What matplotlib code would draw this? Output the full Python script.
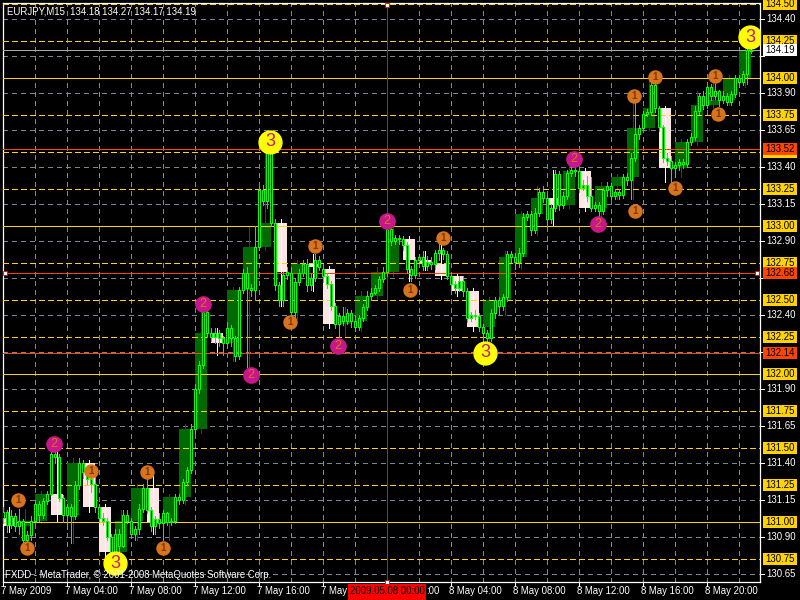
import matplotlib
matplotlib.use("Agg")
import matplotlib.pyplot as plt
from matplotlib.patches import Rectangle
from matplotlib.transforms import Bbox
import numpy as np

plt.rcParams['font.family'] = ['Liberation Sans', 'DejaVu Sans']

# ---------------- data (M15 bars, prices in pips above BASE) ----------------
BASE = 130.00
PIP = 0.01

open_pips = [
    103, 107, 98, 104, 97, 101, 88, 91, 101, 112,
    105, 114, 119, 146, 144, 116, 105, 110, 104, 125,
    140, 134, 129, 126, 110, 103, 101, 90, 80, 92,
    84, 105, 101, 92, 95, 109, 123, 108, 97, 102,
    99, 106, 100, 101, 117, 115, 127, 135, 163, 190,
    206, 242, 228, 225, 228, 224, 221, 231, 224, 212,
    257, 268, 258, 257, 286, 324, 317, 354, 302, 260,
    250, 267, 268, 242, 262, 268, 274, 260, 265, 277,
    271, 266, 261, 246, 234, 239, 236, 241, 236, 232,
    238, 245, 253, 255, 258, 264, 269, 298, 290, 292,
    291, 287, 271, 267, 277, 279, 273, 276, 274, 282,
    284, 281, 266, 261, 258, 263, 256, 238, 240, 239,
    232, 228, 224, 241, 250, 246, 252, 281, 279, 276,
    282, 306, 308, 297, 309, 323, 319, 305, 312, 335,
    314, 320, 336, 338, 337, 326, 328, 320, 312, 314,
    310, 324, 327, 320, 323, 321, 333, 331, 346, 362,
    366, 376, 377, 395, 380, 367, 346, 344, 339, 341,
    343, 342, 357, 360, 378, 388, 382, 394, 388, 391,
    385, 388, 384, 389, 400, 397, 403, 418]

high_pips = [
    110, 108, 108, 106, 109, 102, 94, 104, 115, 114,
    116, 121, 149, 151, 146, 118, 112, 112, 128, 143,
    142, 136, 131, 131, 112, 106, 103, 92, 95, 95,
    108, 108, 103, 97, 112, 126, 132, 110, 104, 106,
    108, 107, 103, 119, 119, 129, 137, 166, 193, 209,
    246, 244, 231, 231, 230, 226, 235, 233, 226, 259,
    271, 272, 261, 300, 327, 328, 357, 357, 305, 262,
    269, 272, 272, 265, 271, 277, 278, 268, 281, 280,
    273, 268, 263, 248, 241, 245, 244, 243, 240, 240,
    247, 256, 258, 260, 266, 272, 301, 300, 294, 294,
    293, 289, 273, 279, 281, 283, 280, 279, 284, 288,
    285, 283, 268, 263, 266, 266, 258, 242, 243, 241,
    234, 230, 244, 252, 252, 254, 283, 283, 282, 285,
    309, 310, 310, 312, 326, 327, 321, 315, 338, 337,
    323, 338, 340, 342, 339, 331, 334, 333, 316, 316,
    326, 330, 329, 325, 325, 335, 336, 349, 383, 368,
    378, 379, 397, 398, 381, 368, 349, 347, 343, 345,
    345, 359, 363, 381, 390, 391, 397, 396, 396, 392,
    391, 390, 391, 402, 402, 405, 424, 427]

low_pips = [
    99, 93, 96, 94, 92, 85, 86, 88, 99, 101,
    103, 112, 118, 140, 114, 100, 95, 86, 102, 122,
    130, 126, 120, 107, 100, 98, 88, 77, 76, 80,
    83, 99, 89, 88, 92, 107, 106, 94, 92, 96,
    88, 98, 98, 99, 112, 113, 125, 133, 160, 187,
    204, 225, 222, 221, 219, 213, 218, 219, 209, 210,
    255, 205, 253, 250, 284, 314, 312, 300, 257, 246,
    246, 264, 238, 237, 260, 266, 256, 257, 263, 270,
    262, 258, 243, 231, 225, 233, 234, 232, 229, 230,
    236, 243, 250, 254, 256, 262, 266, 287, 288, 288,
    284, 268, 263, 265, 276, 270, 270, 271, 271, 277,
    278, 264, 257, 255, 256, 253, 235, 236, 237, 229,
    221, 222, 222, 238, 240, 243, 249, 276, 271, 272,
    280, 304, 294, 295, 307, 316, 300, 302, 310, 311,
    312, 318, 334, 334, 323, 324, 317, 310, 310, 305,
    308, 320, 318, 318, 318, 319, 328, 318, 344, 359,
    365, 374, 375, 377, 364, 343, 341, 330, 333, 338,
    339, 340, 355, 358, 376, 379, 380, 385, 386, 381,
    383, 382, 382, 387, 394, 395, 396, 417]

close_pips = [
    107, 98, 104, 97, 101, 88, 91, 101, 112, 105,
    114, 119, 146, 144, 116, 105, 110, 104, 125, 140,
    134, 129, 126, 110, 103, 101, 90, 80, 92, 84,
    105, 101, 92, 95, 109, 123, 108, 97, 102, 99,
    106, 100, 101, 117, 115, 127, 135, 163, 190, 206,
    242, 228, 225, 228, 224, 221, 231, 224, 212, 257,
    268, 258, 257, 286, 324, 317, 354, 302, 260, 250,
    267, 269, 242, 262, 268, 274, 260, 265, 277, 272,
    266, 261, 246, 234, 239, 236, 241, 236, 232, 238,
    245, 253, 255, 258, 264, 269, 298, 290, 292, 291,
    287, 271, 267, 277, 279, 273, 276, 274, 282, 284,
    281, 266, 261, 258, 263, 256, 238, 240, 239, 232,
    228, 224, 241, 250, 246, 252, 281, 279, 276, 282,
    306, 308, 297, 309, 323, 319, 305, 312, 335, 314,
    320, 336, 338, 337, 326, 328, 320, 312, 314, 310,
    324, 327, 320, 323, 321, 333, 331, 346, 362, 366,
    376, 377, 395, 380, 367, 346, 344, 339, 341, 343,
    342, 357, 360, 378, 388, 382, 394, 388, 391, 385,
    388, 384, 389, 400, 397, 403, 419, 419]

BARS_PER_HOUR = 4

# wave labels (bar index, price)
wave1_bar = [3.75, 6, 22, 36, 40, 71.75, 78, 101.75, 110, 157.75, 158, 163, 168, 178, 178.75]
wave1_price = [131.149, 130.824, 131.345, 131.338, 130.824, 132.351, 132.865, 132.568,
               132.919, 133.878, 133.101, 134.007, 133.257, 134.014, 133.757]
wave2_bar = [12.8, 49.9, 61.9, 83.8, 95.9, 142.8, 148.8]
wave2_price = [131.527, 132.473, 131.993, 132.189, 133.034, 133.453, 133.014]
wave3_bar = [28, 66.75, 120.5, 186.75]
wave3_price = [130.721, 133.570, 132.142, 134.275]

title_text = "EURJPY,M15  134.18 134.27 134.17 134.19"
copyright_text = "FXDD - MetaTrader, \u00a9 2001-2008 MetaQuotes Software Corp."
time_label_bars = [0, 16, 32, 48, 64, 80, 96, 112, 128, 144, 160, 176]
time_labels = ["7 May 2009", "7 May 04:00", "7 May 08:00", "7 May 12:00", "7 May 16:00",
               "7 May 20:00", "8 May 00:00", "8 May 04:00", "8 May 08:00", "8 May 12:00",
               "8 May 16:00", "8 May 20:00"]
grid_levels = [130.65, 130.90, 131.15, 131.40, 131.65, 131.90, 132.15, 132.40,
               132.65, 132.90, 133.15, 133.40, 133.65, 133.90, 134.15, 134.40]
yellow_levels = [130.75, 131.00, 131.25, 131.50, 131.75, 132.00, 132.25, 132.50,
                 132.75, 133.00, 133.25, 133.50, 133.75, 134.00, 134.25, 134.50]
red_levels = [133.52, 132.68, 132.14]
bid_level = 134.19
selected_level = 132.68
vline_bar = 96
vline_label = "2009.05.08 00:00"

# ---------------- derived ----------------
O = BASE + np.array(open_pips) * PIP
H = BASE + np.array(high_pips) * PIP
L = BASE + np.array(low_pips) * PIP
C = BASE + np.array(close_pips) * PIP
N = len(O)
x = np.arange(N)

nh = N // BARS_PER_HOUR
hO = O[::BARS_PER_HOUR][:nh]
hC = C[BARS_PER_HOUR - 1::BARS_PER_HOUR][:nh]
hH = H[:nh * BARS_PER_HOUR].reshape(nh, BARS_PER_HOUR).max(axis=1)
hL = L[:nh * BARS_PER_HOUR].reshape(nh, BARS_PER_HOUR).min(axis=1)
hx = np.arange(nh) * BARS_PER_HOUR

# ---------------- figure ----------------
W, Hpx = 800, 600
fig = plt.figure(figsize=(8, 6), dpi=100, facecolor='black')
AX_L, AX_R, AX_T, AX_B = 2.5, 760.0, 3.0, 582.0
ax = fig.add_axes([AX_L / W, (Hpx - AX_B) / Hpx, (AX_R - AX_L) / W, (AX_B - AX_T) / Hpx])
ax.set_facecolor('black')
ax.set_xlim(-0.125, -0.125 + (AX_R - AX_L) / 4.0)
ax.set_ylim(134.0 - (AX_B - 78) / 148.0, 134.0 + (78 - AX_T) / 148.0)
ax.set_xticks([])
ax.set_yticks([])
for s in ax.spines.values():
    s.set_color('white')
    s.set_linewidth(0.9)


def axx(px):
    return (px - AX_L) / (AX_R - AX_L)


def axy(py):
    return (AX_B - py) / (AX_B - AX_T)


GRID = '#7a8796'
LIME = '#00FF00'
DKGREEN = '#006A00'
PINK = '#FFE6E6'
GOLD = '#FFD200'
ORED = '#FF4500'
FS = 6.9
LW = 0.5          # thin crisp (non-antialiased) 1 px lines
GRID_DASH = (0, (6.5, 6.5))
GOLD_DASH = (0, (8, 5))

# grid
for p in grid_levels:
    ax.axhline(p, color=GRID, lw=LW, ls=GRID_DASH, zorder=1, antialiased=False)
for k in range(8, N + 1, 8):
    ax.axvline(k, color=GRID, lw=LW, ls=GRID_DASH, zorder=1, antialiased=False)

# hourly overlay candles
for i in range(nh):
    up = hC[i] >= hO[i]
    ax.add_patch(Rectangle((hx[i], min(hO[i], hC[i])), BARS_PER_HOUR - 1, abs(hC[i] - hO[i]),
                           facecolor=DKGREEN if up else PINK, edgecolor='none', zorder=2,
                           antialiased=False))
    ax.vlines(hx[i] + (BARS_PER_HOUR - 1) / 2, hL[i], hH[i],
              color=DKGREEN if up else 'white', lw=LW, zorder=2.5, antialiased=False)

# price levels
for p in yellow_levels:
    solid = abs(p - round(p)) < 1e-9
    ax.axhline(p, color=GOLD, lw=LW, ls='-' if solid else GOLD_DASH, zorder=3,
               antialiased=False)
for p in red_levels:
    ax.axhline(p, color=ORED, lw=LW, zorder=3.1, antialiased=False)
ax.axhline(bid_level, color='#a9a9a9', lw=LW, zorder=3.1, antialiased=False)
ax.axvline(vline_bar, color='#ff0000', lw=LW, zorder=3.2, antialiased=False)

# M15 candles
ax.vlines(x, L, H, color=LIME, lw=LW, zorder=4, antialiased=False)
ax.bar(x, C - O, bottom=O, width=0.5, color='black', edgecolor=LIME, linewidth=LW, zorder=5,
       antialiased=False)

# selection handles
ax.plot([0.5, N + 0.5], [selected_level, selected_level], 's', ms=3.2, mfc='white',
        mec='#ee0000', mew=0.6, zorder=7, clip_on=False)
tx = ax.get_xaxis_transform()
ax.plot([vline_bar, vline_bar], [axy(5), axy(582)], 's', ms=3.2, mfc='white', mec='#ee0000',
        mew=0.6, transform=tx, zorder=7, clip_on=False)

# wave markers
ax.plot(wave1_bar, wave1_price, 'o', ls='none', ms=9.4, mfc='#D8731F', mec='#D8731F', zorder=6)
for bx, by in zip(wave1_bar, wave1_price):
    ax.text(bx, by, '1', color='#7a3a00', fontsize=7, ha='center', va='center', zorder=6.5,
            fontweight='bold')
ax.plot(wave2_bar, wave2_price, 'o', ls='none', ms=11, mfc='#C8178A', mec='#C8178A', zorder=6)
for bx, by in zip(wave2_bar, wave2_price):
    ax.text(bx, by, '2', color='#D8731F', fontsize=9, ha='center', va='center', zorder=6.5)
ax.plot(wave3_bar, wave3_price, 'o', ls='none', ms=16.5, mfc='#FFFF00', mec='#FFFF00', zorder=6)
for bx, by in zip(wave3_bar, wave3_price):
    ax.text(bx, by, '3', color='#C8178A', fontsize=13, ha='center', va='center', zorder=6.5)

# right price scale
ty = ax.get_yaxis_transform()
box_h = 12 / 148.0
covered = red_levels + [bid_level]
for p in grid_levels:
    ax.plot([1.0, axx(764)], [p, p], color='white', lw=LW, transform=ty, clip_on=False,
            antialiased=False)
    if min(abs(p - c) for c in covered) > 0.045:
        ax.text(axx(766), p, f"{p:.2f}", color='white', fontsize=FS, ha='left', va='center',
                transform=ty, clip_on=False)


def price_box(p, fc, tc='black', show_text=True):
    ax.add_patch(Rectangle((axx(763), p - box_h / 2), axx(797) - axx(763), box_h, transform=ty,
                           facecolor=fc, edgecolor='none', clip_on=False, zorder=8))
    if show_text:
        ax.text(axx(780), p, f"{p:.2f}", color=tc, fontsize=FS, ha='center', va='center',
                transform=ty, clip_on=False, zorder=9)


for p in yellow_levels:
    price_box(p, GOLD, show_text=min(abs(p - c) for c in covered) > 0.045)
for p in red_levels:
    price_box(p, ORED)
price_box(bid_level, 'white')

# bottom time scale
box_left = vline_bar - 9.75
for k, lab in zip(time_label_bars, time_labels):
    ax.plot([k, k], [0, axy(586)], color='white', lw=LW, transform=tx, clip_on=False,
            antialiased=False)
    if k == vline_bar:
        continue
    t = ax.text(k - 0.4, axy(591), lab, color='white', fontsize=FS, ha='left', va='center',
                transform=tx)
    if k < vline_bar and k + 16 > box_left:
        # partly hidden behind the red time box, as on the terminal
        fig.canvas.draw()
        x_cut = ax.transData.transform((box_left, 0))[0]
        t.set_clip_box(Bbox.from_extents(0, 0, x_cut, Hpx))
        t.set_clip_on(True)
    else:
        t.set_clip_on(False)
ax.add_patch(Rectangle((box_left, axy(600)), 19.5, axy(584) - axy(600), transform=tx,
                       facecolor='#ff0000', edgecolor='none', clip_on=False, zorder=8))
ax.text(vline_bar, axy(591), vline_label, color='black', fontsize=FS, ha='center', va='center',
        transform=tx, clip_on=False, zorder=9)
ax.text(vline_bar + 9.9, axy(591), ":00", color='white', fontsize=FS, ha='left', va='center',
        transform=tx, clip_on=False, zorder=9)

# texts
ax.text(axx(7), axy(12), title_text, color='white', fontsize=FS, ha='left', va='center',
        transform=ax.transAxes, zorder=10)
ax.text(axx(5), axy(575), copyright_text, color='white', fontsize=FS, ha='left', va='center',
        transform=ax.transAxes, zorder=10)

fig.savefig('out.png', dpi=100, facecolor='black')
